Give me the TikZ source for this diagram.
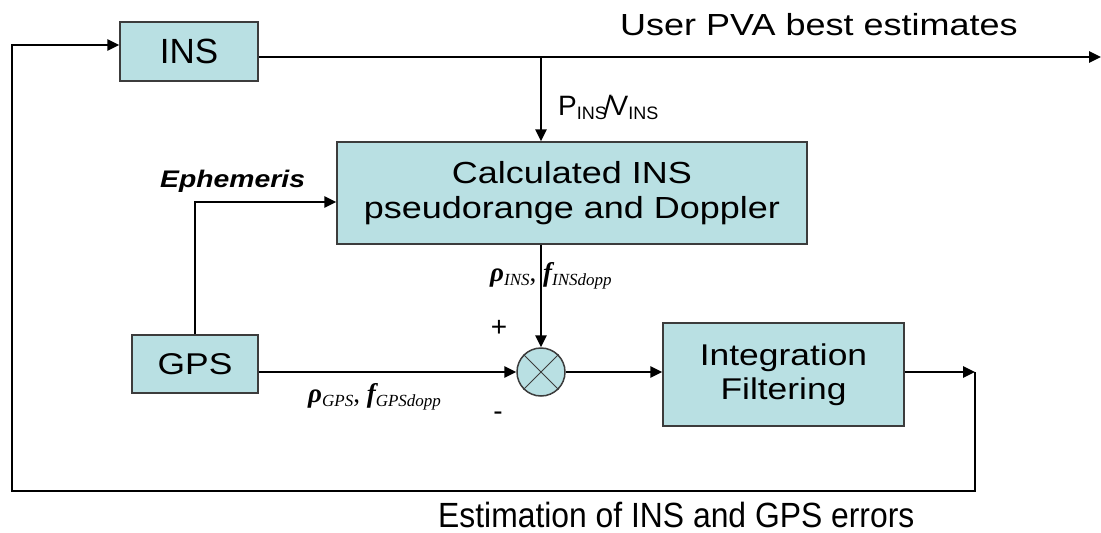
\documentclass[tikz,border=0pt]{standalone}
\usepackage{fontspec}
\setmainfont{Liberation Sans}
\newfontfamily\wideA{Liberation Sans}[FakeStretch=1.18]
\newfontfamily\narrowA{Liberation Sans}[FakeStretch=0.91]
\newfontfamily\tnr{Liberation Serif}
\usetikzlibrary{arrows.meta}
\definecolor{boxfill}{RGB}{185,224,227}
\definecolor{boxline}{RGB}{60,60,60}
\newcommand\fsz[1]{\fontsize{#1}{#1}\selectfont}
\newcommand\sub[1]{\raisebox{-4pt}{\tnr\itshape\fsz{17}#1}}
\begin{document}
\begin{tikzpicture}[x=1pt,y=-1pt,
  box/.style={draw=boxline, fill=boxfill, line width=1.5pt, inner sep=0pt, align=center},
  conn/.style={line width=2.6pt, -{Triangle[length=12pt,width=11pt]}},
  lbl/.style={inner sep=0pt, anchor=base west}]
\useasboundingbox (0,0) rectangle (1101,533);
\fill[white] (0,0) rectangle (1101,533);

% blocks
\node[box, minimum width=138pt, minimum height=59pt] (INS) at (189,51.5) {\fsz{35}INS};
\node[box, minimum width=470pt, minimum height=102pt, font=\wideA\fontsize{30.5}{35}\selectfont] (calc) at (572,193)
  {Calculated INS\\pseudorange and Doppler};
\node[box, minimum width=126pt, minimum height=58pt] (GPS) at (195,364) {\wideA\fsz{30}GPS};
\node[box, minimum width=241pt, minimum height=103pt, font=\wideA\fontsize{30}{34}\selectfont] (integ) at (783.5,374.5)
  {Integration\\Filtering};
\node[circle, draw=boxline, fill=boxfill, line width=1.5pt, minimum size=48pt, inner sep=0pt] (sum) at (541,372) {};
\draw[boxline, line width=1pt] (sum.north west) -- (sum.south east) (sum.north east) -- (sum.south west);

% coordinates
\coordinate (out) at (1101,57);
\coordinate (tap) at (541,57);
\coordinate (c1) at (975,372);
\coordinate (c2) at (975,491);
\coordinate (c3) at (12,491);
\coordinate (c4) at (12,45);

% connectors
\draw[conn] ([yshift=-5.5pt]INS.east) -- (out);
\draw[conn] (tap) -- (tap |- calc.north);
\draw[conn] (GPS.north) |- ([yshift=-9pt]calc.west);
\draw[conn] (sum.north |- calc.south) -- (sum.north);
\draw[conn] (GPS.east |- sum.west) -- (sum.west);
\draw[conn] (sum.east) -- (integ.west |- sum.east);
\draw[conn] (integ.east |- c1) -- (c1);
\draw[conn] (c1) -- (c2) -- (c3) -- (c4) -- (INS.west |- c4);

% labels
\node[lbl] (pva) at (620,35) {\wideA\fsz{30.5}User PVA best estimates};
\node[lbl] (pv) at (558,115) {\fsz{28}P\raisebox{-4pt}{\fsz{18}INS}\kern-3pt/\kern-2pt V\raisebox{-4pt}{\fsz{18}INS}};
\node[lbl] (eph) at (160,187) {\wideA\bfseries\itshape\fsz{24}Ephemeris};
\node[lbl] (rins) at (490,281) {\tnr\fsz{27}{\bfseries\itshape ρ}\sub{INS}, {\bfseries\itshape f}\sub{INSdopp}};
\node[lbl] (rgps) at (308,402) {\tnr\fsz{27}{\bfseries\itshape ρ}\sub{GPS}, {\bfseries\itshape f}\sub{GPSdopp}};
\node[inner sep=0pt] (plus) at (499,328) {\fsz{28}+};
\node[inner sep=0pt] (minus) at (498,416) {\fsz{28}-};
\node[lbl, text depth=0pt] (est) at (438,527) {\narrowA\fsz{35}Estimation of INS and GPS errors};
\end{tikzpicture}
\end{document}
